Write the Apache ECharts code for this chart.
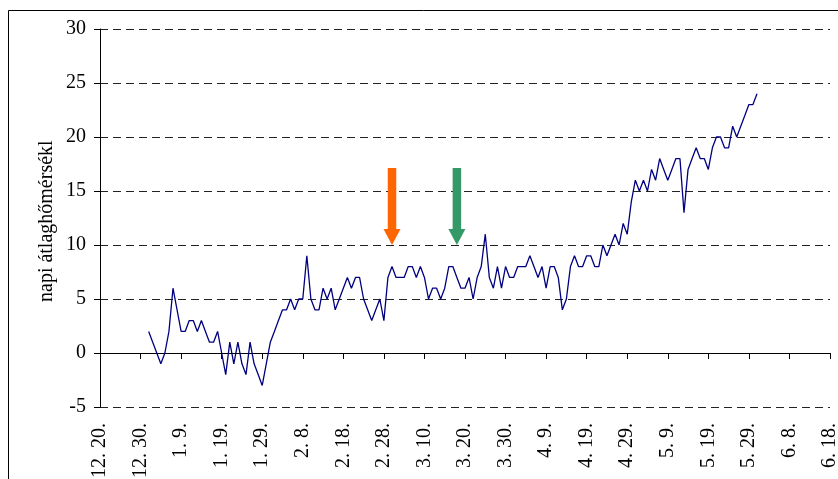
<!DOCTYPE html>
<html>
<head>
<meta charset="utf-8">
<script src="https://cdn.jsdelivr.net/npm/echarts@6/dist/echarts.min.js"></script>
<style>
html,body{margin:0;padding:0;background:#fff;}
#chart{width:838px;height:479px;}
</style>
</head>
<body>
<div id="chart"></div>
<script>
// Category days from 12.20. to 6.18. (non-leap winter/spring)
const firstDay = [2006, 11, 20];
const lastDay = [2007, 5, 18];
// Daily mean temperature, from 1. 1. to 5. 31.
const dataStart = '1. 1.';
const tempValues = [
  2, 1, 0, -1, 0, 2, 6, 4, 2, 2,
  3, 3, 2, 3, 2, 1, 1, 2, 0, -2,
  1, -1, 1, -1, -2, 1, -1, -2, -3, -1,
  1, 2, 3, 4, 4, 5, 4, 5, 5, 9,
  5, 4, 4, 6, 5, 6, 4, 5, 6, 7,
  6, 7, 7, 5, 4, 3, 4, 5, 3, 7,
  8, 7, 7, 7, 8, 8, 7, 8, 7, 5,
  6, 6, 5, 6, 8, 8, 7, 6, 6, 7,
  5, 7, 8, 11, 7, 6, 8, 6, 8, 7,
  7, 8, 8, 8, 9, 8, 7, 8, 6, 8,
  8, 7, 4, 5, 8, 9, 8, 8, 9, 9,
  8, 8, 10, 9, 10, 11, 10, 12, 11, 14,
  16, 15, 16, 15, 17, 16, 18, 17, 16, 17,
  18, 18, 13, 17, 18, 19, 18, 18, 17, 19,
  20, 20, 19, 19, 21, 20, 21, 22, 23, 23,
  24
];
const arrowDates = ['3. 2.', '3. 18.'];
const arrowValues = [10, 10];
const arrowColors = ['#FF6600', '#339966'];
const yTicks = { min: -5, max: 30, interval: 5 };
// axis title as visible (clipped) in the original
const yName = 'napi átlaghőmérsékl';

const categories = [];
{
  const d = new Date(firstDay[0], firstDay[1], firstDay[2]);
  const end = new Date(lastDay[0], lastDay[1], lastDay[2]);
  while (d <= end) {
    categories.push((d.getMonth() + 1) + '. ' + d.getDate() + '.');
    d.setDate(d.getDate() + 1);
  }
}
const startIdx = categories.indexOf(dataStart);
const seriesData = categories.map((c, i) => {
  const k = i - startIdx;
  return (k >= 0 && k < tempValues.length) ? tempValues[k] : null;
});

const serif = "'Liberation Serif', 'Times New Roman', serif";
const arrowPath = 'path://M4,0 L12,0 L12,61 L16,61 L8,77 L0,61 L4,61 Z';

const chart = echarts.init(document.getElementById('chart'), null, { renderer: 'canvas' });
chart.setOption({
  animation: false,
  backgroundColor: '#ffffff',
  grid: { left: 100, right: 8, top: 29, bottom: 72, containLabel: false, outerBoundsMode: 'none' },
  xAxis: {
    type: 'category',
    data: categories,
    boundaryGap: false,
    axisLine: { lineStyle: { color: '#000', width: 1 } },
    axisTick: { interval: 9, length: 6, lineStyle: { color: '#000' } },
    axisLabel: {
      interval: 9, rotate: 90, margin: 16,
      fontFamily: serif, fontSize: 20, color: '#000'
    },
    splitLine: { show: false }
  },
  yAxis: {
    type: 'value',
    min: yTicks.min, max: yTicks.max, interval: yTicks.interval,
    axisLine: { show: true, lineStyle: { color: '#000', width: 1 } },
    axisTick: { show: true, length: 6, lineStyle: { color: '#000' } },
    axisLabel: { margin: 14, fontFamily: serif, fontSize: 20, color: '#000' },
    splitLine: {
      show: true,
      lineStyle: { color: '#222', width: 1, type: [8, 5] }
    }
  },
  series: [{
    type: 'line',
    data: seriesData,
    showSymbol: false,
    connectNulls: false,
    lineStyle: { color: '#000080', width: 1.3 },
    itemStyle: { color: '#000080' },
    markPoint: {
      symbol: arrowPath,
      symbolSize: [17, 77],
      symbolKeepAspect: false,
      symbolOffset: [0, '-50%'],
      label: { show: false },
      data: arrowDates.map((d, i) => ({
        coord: [d, arrowValues[i]],
        itemStyle: { color: arrowColors[i] }
      }))
    }
  }],
  graphic: [
    { type: 'line', shape: { x1: 8.5, y1: 10.5, x2: 838, y2: 10.5 }, style: { stroke: '#000', lineWidth: 1 }, silent: true },
    { type: 'line', shape: { x1: 8.5, y1: 10.5, x2: 8.5, y2: 479 }, style: { stroke: '#000', lineWidth: 1 }, silent: true },
    {
      type: 'text', x: 47, y: 302, rotation: Math.PI / 2, silent: true,
      style: {
        text: yName, fontFamily: serif, fontSize: 20, fill: '#000',
        align: 'left', verticalAlign: 'middle',
        textAlign: 'left', textVerticalAlign: 'middle'
      }
    }
  ]
});
</script>
</body>
</html>
